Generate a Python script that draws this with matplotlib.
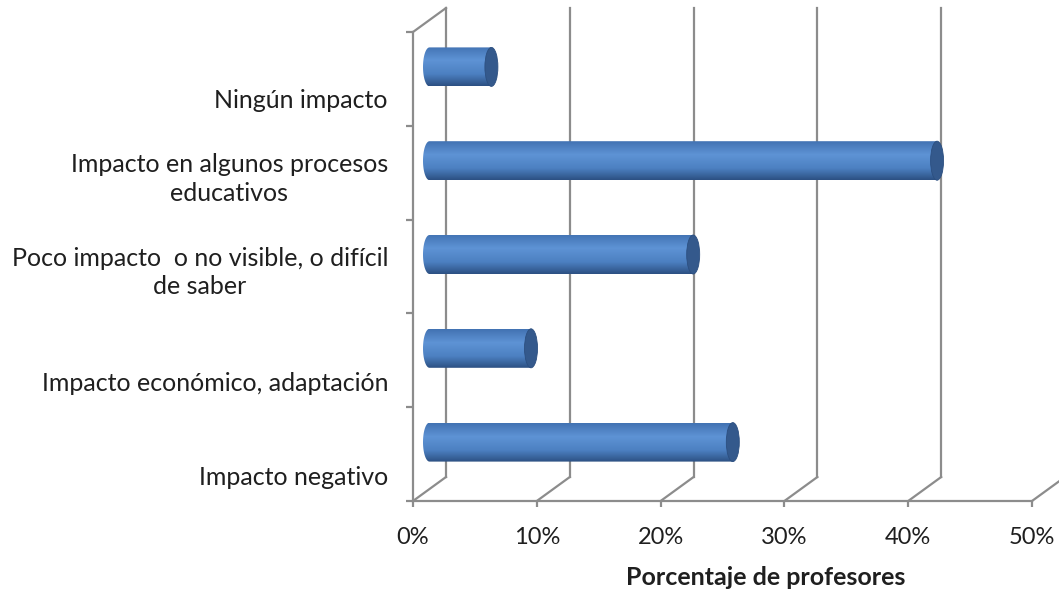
import numpy as np
import matplotlib.pyplot as plt
from matplotlib.patches import PathPatch, Ellipse
from matplotlib.path import Path
from matplotlib.colors import LinearSegmentedColormap
from matplotlib.transforms import ScaledTranslation

plt.rcParams['font.family'] = ['Lato', 'DejaVu Sans']

# datos (de abajo hacia arriba)
categorias = ['Impacto negativo',
              'Impacto económico, adaptación',
              'Poco impacto  o no visible, o difícil\nde saber',
              'Impacto en algunos procesos\neducativos',
              'Ningún impacto']
porcentajes = [24.5, 8.2, 21.3, 41.0, 5.0]
ticks_x = [0, 10, 20, 30, 40, 50]
etiquetas_x = ['0%', '10%', '20%', '30%', '40%', '50%']
# desplazamiento vertical de cada etiqueta (px hacia abajo)
desplaz_etiqueta = [23, 23, 6, 6, 22]

W, H = 1059, 591
fig = plt.figure(figsize=(W / 100, H / 100), dpi=100)
ax_l, ax_b, ax_w, ax_h = 413, 501, 619, 469
ax = fig.add_axes([ax_l / W, (H - ax_b) / H, ax_w / W, ax_h / H])
ax.set_xlim(0, 50)
ax.set_ylim(-0.5, 4.5)

gris = '#8c8c8c'
texto = '#1f1f1f'

# profundidad del grafico 3D en unidades de datos
px_x = ax_w / 50.0
px_y = ax_h / 5.0
DX = 33 / px_x
DY = 24 / px_y

# paredes y suelo
for t in ticks_x:
    ax.plot([t + DX, t + DX], [-0.5 + DY, 4.5 + DY], color=gris, lw=1.6,
            clip_on=False, zorder=1)
    ax.plot([t, t + DX], [-0.5, -0.5 + DY], color=gris, lw=1.6,
            clip_on=False, zorder=1)
ax.plot([0, 0], [-0.5, 4.5], color=gris, lw=1.6, clip_on=False, zorder=1)
ax.plot([0, DX], [4.5, 4.5 + DY], color=gris, lw=1.6, clip_on=False, zorder=1)
ax.plot([0, 50], [-0.5, -0.5], color=gris, lw=1.6, clip_on=False, zorder=1)

# cilindros
cmap = LinearSegmentedColormap.from_list(
    'cil', [(0.0, '#4272b2'), (0.35, '#5e93d5'), (0.7, '#4c80c1'), (1.0, '#2c5082')])
grad = np.linspace(0, 1, 256).reshape(-1, 1)
alto = 39 / px_y
e = 6.5 / px_x
x0 = DX / 2
ang = np.linspace(np.pi / 2, 3 * np.pi / 2, 40)

for i, v in enumerate(porcentajes):
    yc = i + DY / 2
    arco = np.column_stack([x0 + e * np.cos(ang), yc + alto / 2 * np.sin(ang)])
    lado = np.array([[x0 + v, yc - alto / 2], [x0 + v, yc + alto / 2]])
    verts = np.vstack([arco, lado, arco[:1]])
    cuerpo = PathPatch(Path(verts), facecolor='none', edgecolor='none')
    ax.add_patch(cuerpo)
    im = ax.imshow(grad, extent=[x0 - e, x0 + v, yc - alto / 2, yc + alto / 2],
                   aspect='auto', cmap=cmap, zorder=3, interpolation='bilinear')
    im.set_clip_path(cuerpo)
    ax.add_patch(Ellipse((x0 + v, yc), 2 * e, alto, facecolor='#34598c',
                         edgecolor='#2c4f80', lw=0.6, zorder=4))

ax.set_xlim(0, 50)
ax.set_ylim(-0.5, 4.5)

for s in ax.spines.values():
    s.set_visible(False)

ax.set_xticks(ticks_x, etiquetas_x)
ax.set_yticks(np.arange(-0.5, 5, 1))
ax.set_yticklabels([])
ax.tick_params(axis='y', length=5, width=1.6, color=gris)
ax.tick_params(axis='x', length=4.5, width=1.6, color=gris, pad=14,
               labelsize=17, labelcolor=texto)

for i, etiqueta in enumerate(categorias):
    tr = ax.transData + ScaledTranslation(-0.25, -desplaz_etiqueta[i] / 100,
                                          fig.dpi_scale_trans)
    ax.text(0, i, etiqueta, transform=tr, ha='right', va='center',
            multialignment='center', fontsize=18, color=texto, linespacing=1.3)

ax.text(0.57, -0.163, 'Porcentaje de profesores', transform=ax.transAxes,
        ha='center', va='center', fontsize=18, fontweight='bold', color=texto)

fig.savefig('out.png', dpi=100)
